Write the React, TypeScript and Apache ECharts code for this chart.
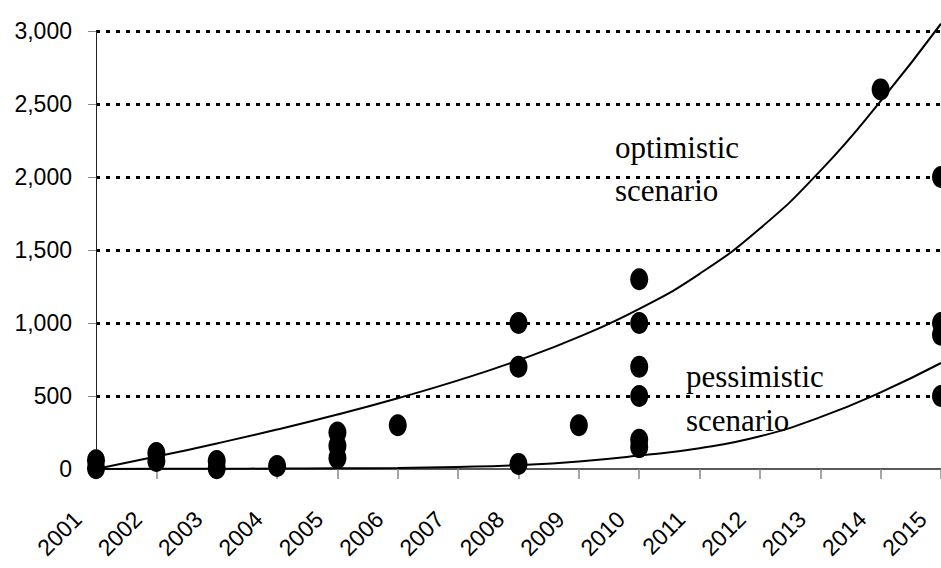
import React, { useEffect, useRef } from "react";
import * as echarts from "echarts";

const years = [2001, 2002, 2003, 2004, 2005, 2006, 2007, 2008, 2009, 2010, 2011, 2012, 2013, 2014, 2015];
const optimistic = [0, 85, 175, 270, 373, 485, 607, 745, 905, 1097, 1337, 1647, 2042, 2520, 3050];
const pessimistic = [0, 1, 2, 3, 5, 7, 14, 27, 52, 92, 142, 224, 355, 525, 726];

const obsYears = [2001, 2001, 2002, 2002, 2003, 2003, 2004, 2005, 2005, 2005, 2006, 2008, 2008, 2008, 2009, 2010, 2010, 2010, 2010, 2010, 2010, 2014, 2015, 2015, 2015, 2015];
const obsValues = [60, 5, 110, 55, 55, 5, 20, 250, 160, 75, 300, 1000, 700, 35, 300, 1300, 1000, 700, 500, 200, 150, 2600, 2000, 1000, 920, 500];

export default function App() {
  const ref = useRef<HTMLDivElement>(null);
  useEffect(() => {
    if (!ref.current) return;
    const chart = echarts.init(ref.current, undefined, { renderer: "svg" });
    const serif = "'Liberation Serif', 'Times New Roman', serif";
    const sans = "'Liberation Sans', Arial, sans-serif";
    chart.setOption({
      animation: false,
      backgroundColor: "#ffffff",
      grid: { left: 96, right: 0, top: 31, bottom: 99 },
      xAxis: {
        type: "value",
        min: 2001,
        max: 2015,
        interval: 1,
        axisLine: { show: true, onZero: false, lineStyle: { color: "#222", width: 1.5 } },
        axisTick: { show: true, length: 10, lineStyle: { color: "#888", width: 1.5 } },
        splitLine: { show: false },
        axisLabel: {
          rotate: 45,
          margin: 28,
          padding: [0, 26, 0, 0],
          fontSize: 23,
          fontFamily: sans,
          color: "#000",
          formatter: (v: number) => String(v),
        },
      },
      yAxis: {
        type: "value",
        min: 0,
        max: 3000,
        interval: 500,
        axisLine: { show: true, lineStyle: { color: "#222", width: 1 } },
        axisTick: { show: true, length: 8, lineStyle: { color: "#888", width: 1 } },
        axisLabel: {
          margin: 24,
          fontSize: 23,
          fontFamily: sans,
          color: "#000",
          formatter: (v: number) => v.toLocaleString("en-US"),
        },
        splitLine: {
          show: true,
          lineStyle: {
            color: ["rgba(0,0,0,0)", "#000", "#000", "#000", "#000", "#000", "#000"],
            width: 3,
            type: [4, 6],
          },
        },
      },
      series: [
        {
          type: "line",
          data: years.map((y, i) => [y, optimistic[i]]),
          smooth: true,
          showSymbol: false,
          clip: false,
          lineStyle: { color: "#000", width: 2 },
          z: 3,
        },
        {
          type: "line",
          data: years.map((y, i) => [y, pessimistic[i]]),
          smooth: true,
          showSymbol: false,
          clip: false,
          lineStyle: { color: "#000", width: 2 },
          z: 3,
        },
        {
          type: "scatter",
          data: obsYears.map((y, i) => [y, obsValues[i]]),
          symbol: "circle",
          symbolSize: [18, 22],
          clip: false,
          itemStyle: { color: "#000", opacity: 1 },
          z: 4,
        },
      ],
      graphic: [
        { type: "text", left: 615, top: 132, style: { text: "optimistic", font: `31px ${serif}`, fill: "#000" } },
        { type: "text", left: 615, top: 175, style: { text: "scenario", font: `31px ${serif}`, fill: "#000" } },
        { type: "text", left: 686, top: 361, style: { text: "pessimistic", font: `31px ${serif}`, fill: "#000" } },
        { type: "text", left: 686, top: 405, style: { text: "scenario", font: `31px ${serif}`, fill: "#000" } },
      ],
    });
    return () => chart.dispose();
  }, []);
  return (
    <div
      ref={ref}
      style={{ position: "fixed", left: 0, top: 0, width: 941, height: 568, background: "#fff" }}
    />
  );
}
